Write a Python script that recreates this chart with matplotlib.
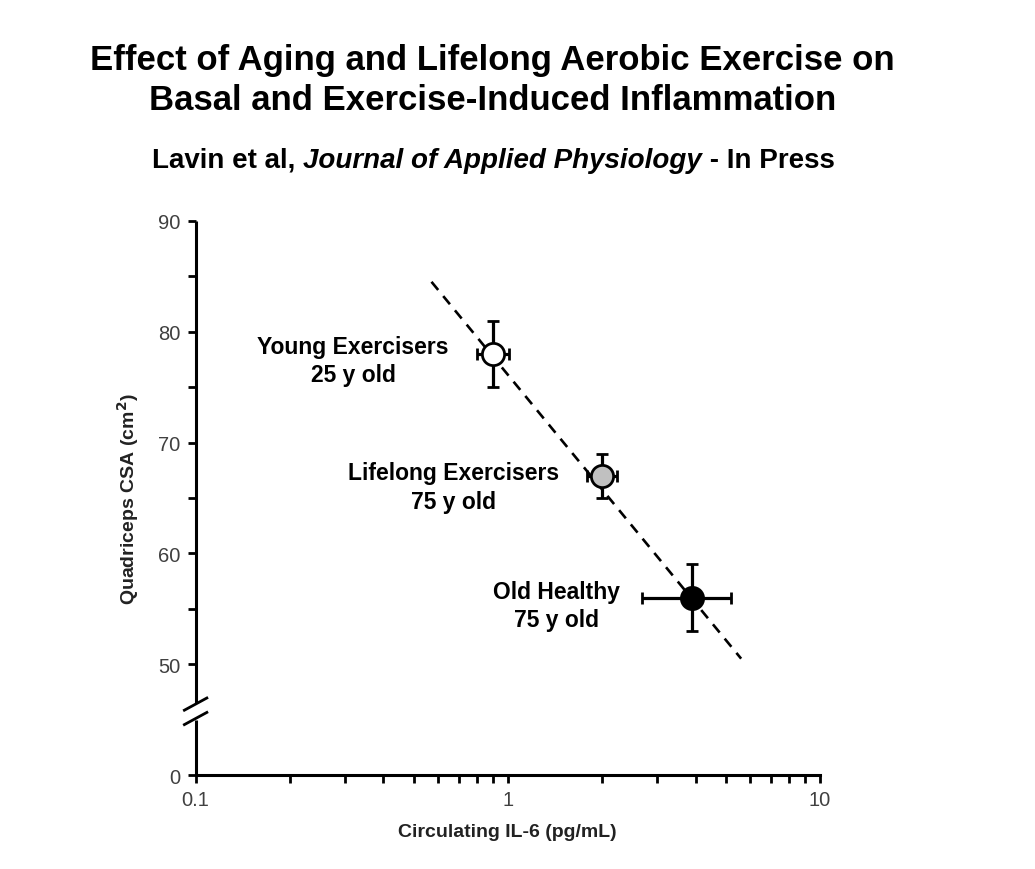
import matplotlib
matplotlib.use("Agg")
import matplotlib.pyplot as plt
import matplotlib.transforms as mtransforms
import numpy as np

plt.rcParams['font.family'] = ['Liberation Sans', 'DejaVu Sans']

# data
groups = ["Young Exercisers\n25 y old", "Lifelong Exercisers\n75 y old", "Old Healthy\n75 y old"]
il6 = [0.90, 2.0, 3.9]
il6_lo = [0.80, 1.80, 2.70]
il6_hi = [1.01, 2.24, 5.20]
csa = [78, 67, 56]
csa_err = [3, 2, 3]
face = ['white', '#c0c0c0', 'black']
label_x = [0.32, 0.67, 1.43]
label_y = [77.4, 66.0, 55.3]

trend_x = [0.57, 5.6]
trend_y = [84.5, 50.5]

yticks = [40, 50, 60, 70, 80, 90]
yticklabels = ['0', '50', '60', '70', '80', '90']

fig = plt.figure(figsize=(10.35, 8.7), dpi=100)
ax = fig.add_axes([0.189, 0.108, 0.603, 0.637])

ax.plot(trend_x, trend_y, ls=(0, (4, 3)), color='black', lw=1.9, zorder=1)

for i in range(len(il6)):
    xe = [[il6[i] - il6_lo[i]], [il6_hi[i] - il6[i]]]
    ax.errorbar(il6[i], csa[i], xerr=xe, yerr=csa_err[i], fmt='o', ms=16,
                mfc=face[i], mec='black', mew=2, ecolor='black', elinewidth=2.3,
                capsize=4.5, capthick=2.3, zorder=3)
    ax.text(label_x[i], label_y[i], groups[i], ha='center', va='center',
            fontsize=16.5, fontweight='bold', linespacing=1.3)

ax.set_xscale('log')
ax.set_xlim(0.1, 10)
ax.set_ylim(40, 90)
ax.set_xticks([0.1, 1, 10])
ax.set_xticklabels(['0.1', '1', '10'])
ax.set_yticks(yticks)
ax.set_yticklabels(yticklabels)
ax.set_yticks([55, 65, 75, 85], minor=True)

for s in ['top', 'right', 'left']:
    ax.spines[s].set_visible(False)
ax.spines['bottom'].set_linewidth(2.2)

ax.tick_params(which='both', direction='out', length=6, width=2, colors='black',
               labelcolor='#404040', labelsize=14.5, pad=5)

# broken left axis
trans = mtransforms.blended_transform_factory(ax.transAxes, ax.transData)
ax.plot([0, 0], [40, 45.0], transform=trans, color='black', lw=2.2, clip_on=False,
        solid_capstyle='butt')
ax.plot([0, 0], [46.5, 90], transform=trans, color='black', lw=2.2, clip_on=False,
        solid_capstyle='butt')
for yc in [45.1, 46.4]:
    ax.plot([-0.018, 0.018], [yc - 0.55, yc + 0.55], transform=trans, color='black',
            lw=2, clip_on=False)

ax.set_xlabel('Circulating IL-6 (pg/mL)', fontsize=14, fontweight='bold', labelpad=10,
              color='#222222')
ax.set_ylabel('Quadriceps CSA (cm$^\\mathbf{2}$)', fontsize=14, fontweight='bold',
              labelpad=12, color='#222222')

fig.text(0.476, 0.931, 'Effect of Aging and Lifelong Aerobic Exercise on',
         ha='center', va='center', fontsize=25, fontweight='bold')
fig.text(0.476, 0.884, 'Basal and Exercise-Induced Inflammation',
         ha='center', va='center', fontsize=25, fontweight='bold')

# subtitle with italic journal name
parts = ['Lavin et al, ', 'Journal of Applied Physiology', ' - In Press']
styles = ['normal', 'italic', 'normal']
fig.canvas.draw()
r = fig.canvas.get_renderer()
texts = []
for p, st in zip(parts, styles):
    t = fig.text(0, 0.815, p, ha='left', va='center', fontsize=20, fontweight='bold',
                 style=st)
    texts.append(t)
widths = [t.get_window_extent(r).width for t in texts]
x0 = 493.5 - sum(widths) / 2
for t, w in zip(texts, widths):
    t.set_x(x0 / 1035)
    x0 += w

fig.savefig('out.png', dpi=100, facecolor='white')
